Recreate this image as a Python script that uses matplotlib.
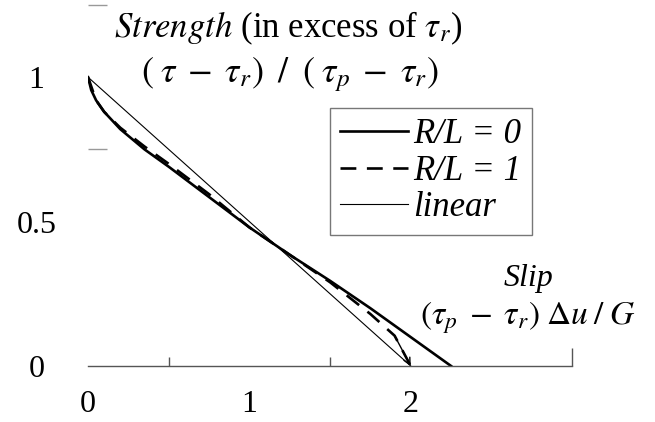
import matplotlib.pyplot as plt

plt.rcParams['font.family'] = ['Liberation Serif', 'DejaVu Serif']
plt.rcParams['mathtext.fontset'] = 'stix'

# slip-weakening curves (normalised slip vs normalised strength)
slip_r0 = [0, 0.02, 0.05, 0.1, 0.2, 0.35, 0.5, 0.75, 1.0, 1.25, 1.5, 1.75, 2.0, 2.25]
str_r0 = [1, 0.955, 0.92, 0.88, 0.82, 0.75, 0.69, 0.585, 0.48, 0.385, 0.295, 0.2, 0.1, 0.0]

slip_r1 = [0, 0.05, 0.1, 0.2, 0.35, 0.5, 0.75, 1.0, 1.25, 1.5, 1.75, 1.9, 2.0]
str_r1 = [1, 0.92, 0.88, 0.825, 0.76, 0.70, 0.595, 0.48, 0.385, 0.29, 0.18, 0.105, 0.0]

slip_lin = [0, 2]
str_lin = [1, 0]

xtick_pos = [0, 1, 2]
xtick_lab = ['0', '1', '2']
ytick_pos = [0, 0.5, 1]
ytick_lab = ['0', '0.5', '1']

fig = plt.figure(figsize=(6.55, 4.22), dpi=100)
ax = fig.add_axes([0.1344, 0.1327, 0.739, 0.8555])

ax.plot(slip_r0, str_r0, color='black', lw=1.9, label='R/L = 0')
ax.plot(slip_r1, str_r1, color='black', lw=1.9, dashes=(6, 4), label='R/L = 1')
ax.plot(slip_lin, str_lin, color='black', lw=0.8, label='linear')
# arrow head at the end of the R/L = 1 curve
ax.annotate('', xy=(slip_r1[-1], str_r1[-1]), xytext=(slip_r1[-2], str_r1[-2]),
            arrowprops=dict(arrowstyle='->', color='black', lw=1.0,
                            mutation_scale=12, shrinkA=0, shrinkB=0))

ax.set_xlim(0, 3)
ax.set_ylim(0, 1.25)
for s in ['top', 'right', 'left']:
    ax.spines[s].set_visible(False)
ax.spines['bottom'].set_color('#555555')
ax.spines['bottom'].set_linewidth(1.0)

ax.set_xticks(xtick_pos)
ax.set_xticklabels(xtick_lab)
ax.set_xticks([0.5, 1.5, 2, 3], minor=True)
ax.set_yticks(ytick_pos)
ax.set_yticklabels(ytick_lab)
ax.set_yticks([0.5, 0.75, 1.25], minor=True)

ax.tick_params(axis='x', which='major', length=0, pad=17, labelsize=23)
ax.tick_params(axis='y', which='major', length=0, pad=37, labelsize=23)
for lab in ax.get_yticklabels():
    lab.set_horizontalalignment('center')
ax.tick_params(axis='x', which='minor', direction='in', length=6.5, color='#555555', width=1)
ax.tick_params(axis='y', which='minor', direction='in', length=14, color='#999999', width=1)
# longer ticks at 2 and 3
for t, v in zip(ax.xaxis.get_minor_ticks(), [0.5, 1.5, 2, 3]):
    if v >= 2:
        t.tick1line.set_markersize(13)

leg = ax.legend(loc='upper left', bbox_to_anchor=(0.5, 0.715), borderaxespad=0,
                prop={'family': 'Liberation Serif', 'style': 'italic', 'size': 25},
                handlelength=1.95, handletextpad=0.15, labelspacing=0.1,
                borderpad=0.3, fancybox=False, framealpha=1)
leg.get_frame().set_edgecolor('#777777')
leg.get_frame().set_linewidth(1.0)

fig.text(288 / 655, 0.933, r'$\mathit{Strength}$ (in excess of $\tau_r$)',
         ha='center', va='center', fontsize=25)
fig.text(290 / 655, 0.824, r'$(\;\tau\;-\;\tau_r)\;\;/\;\;(\;\tau_p\;-\;\tau_r)$',
         ha='center', va='center', fontsize=26)
fig.text(528 / 655, 0.341, 'Slip', style='italic',
         ha='center', va='center', fontsize=23)
fig.text(528 / 655, 0.246, r'$(\tau_p\;-\;\tau_r)\;\Delta u\;/\;G$',
         ha='center', va='center', fontsize=24)

fig.savefig('out.png', dpi=100)
